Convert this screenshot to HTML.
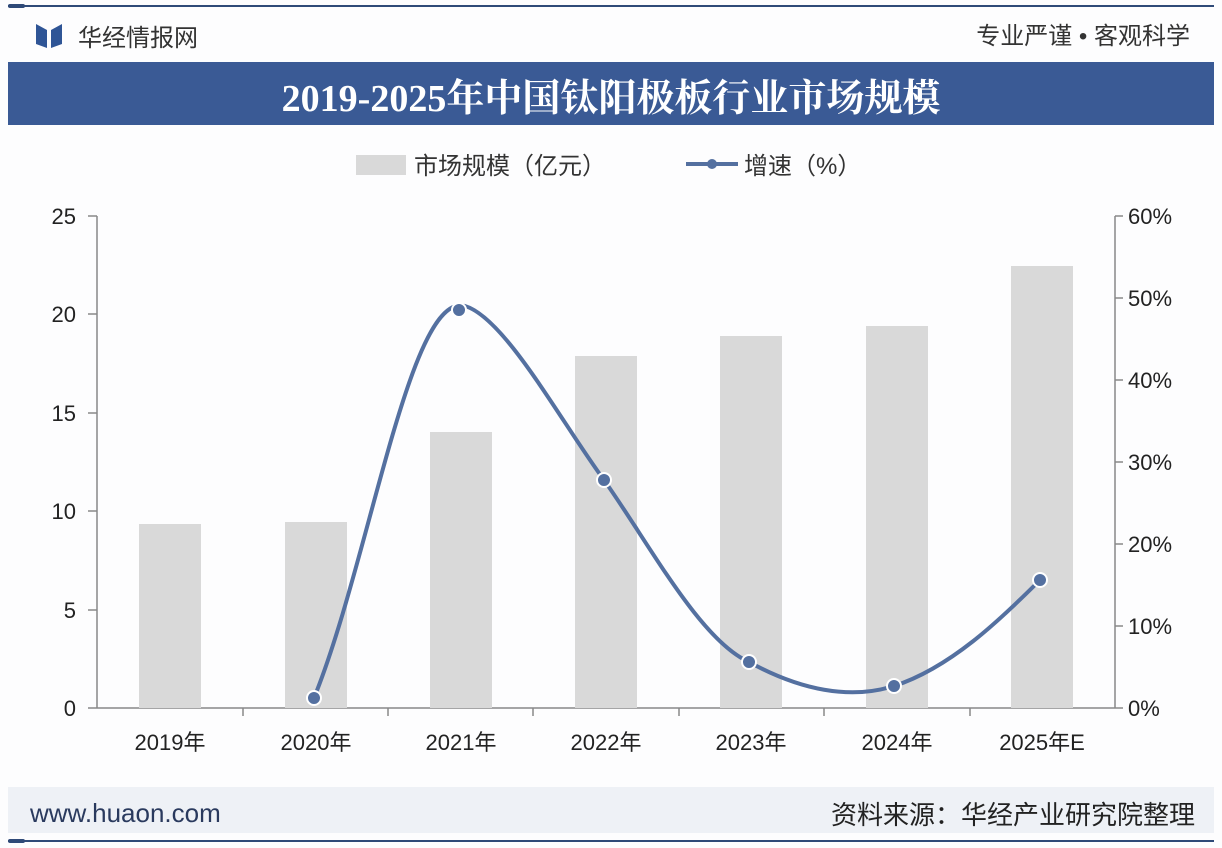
<!DOCTYPE html>
<html><head><meta charset="utf-8"><style>
body{margin:0;background:#fff;}
svg{display:block;font-family:"Liberation Sans","Noto Sans CJK SC",sans-serif;}
</style></head><body>
<svg width="1222" height="848" viewBox="0 0 1222 848" xmlns="http://www.w3.org/2000/svg">
<rect width="1222" height="848" fill="#fdfdfe"/>
<line x1="8" y1="6" x2="1214" y2="6" stroke="#2f4a78" stroke-width="2"/>
<rect x="8" y="4" width="17" height="4" rx="2" fill="#2f4a78"/>
<path d="M36 24 L47 30 L47 48 L36 44 Z M62 24 L51 30 L51 48 L62 44 Z" fill="#2f5596"/>
<text x="78" y="46" font-size="24" fill="#333">华经情报网</text>
<text x="1190" y="44" font-size="24" fill="#333" text-anchor="end">专业严谨 • 客观科学</text>
<rect x="8" y="62" width="1206" height="63" fill="#3a5a95"/>
<text x="611" y="111" font-size="38" font-weight="bold" fill="#fff" text-anchor="middle" font-family="Liberation Serif,'Noto Serif CJK SC',serif">2019-2025年中国钛阳极板行业市场规模</text>
<!-- legend -->
<rect x="356" y="155" width="50" height="20" fill="#d9d9d9"/>
<text x="414" y="174" font-size="24" fill="#333">市场规模（亿元）</text>
<line x1="686" y1="164" x2="738" y2="164" stroke="#5470a0" stroke-width="4"/>
<circle cx="712" cy="164" r="5" fill="#5470a0"/>
<text x="744" y="174" font-size="24" fill="#333">增速（%）</text>
<!-- axes -->
<g stroke="#888" stroke-width="1.5">
<line x1="97" y1="216" x2="97" y2="708"/>
<line x1="1115" y1="216" x2="1115" y2="708"/>
<line x1="88" y1="708" x2="1115" y2="708"/>
<line x1="88" y1="216" x2="97" y2="216"/><line x1="88" y1="314" x2="97" y2="314"/><line x1="88" y1="413" x2="97" y2="413"/><line x1="88" y1="511" x2="97" y2="511"/><line x1="88" y1="610" x2="97" y2="610"/>
<line x1="1115" y1="216" x2="1123" y2="216"/><line x1="1115" y1="298" x2="1123" y2="298"/><line x1="1115" y1="380" x2="1123" y2="380"/><line x1="1115" y1="462" x2="1123" y2="462"/><line x1="1115" y1="544" x2="1123" y2="544"/><line x1="1115" y1="626" x2="1123" y2="626"/><line x1="1115" y1="708" x2="1123" y2="708"/>
<line x1="243" y1="708" x2="243" y2="716"/><line x1="388" y1="708" x2="388" y2="716"/><line x1="533" y1="708" x2="533" y2="716"/><line x1="679" y1="708" x2="679" y2="716"/><line x1="824" y1="708" x2="824" y2="716"/><line x1="970" y1="708" x2="970" y2="716"/>
</g>
<g font-size="22" fill="#222" text-anchor="end">
<text x="76" y="224">25</text><text x="76" y="322">20</text><text x="76" y="421">15</text><text x="76" y="519">10</text><text x="76" y="618">5</text><text x="76" y="716">0</text>
</g>
<g font-size="22" fill="#222">
<text x="1128" y="224">60%</text><text x="1128" y="306">50%</text><text x="1128" y="388">40%</text><text x="1128" y="470">30%</text><text x="1128" y="552">20%</text><text x="1128" y="634">10%</text><text x="1128" y="716">0%</text>
</g>
<g fill="#d9d9d9">
<rect x="139" y="524" width="62" height="184"/>
<rect x="285" y="522" width="62" height="186"/>
<rect x="430" y="432" width="62" height="276"/>
<rect x="575" y="356" width="62" height="352"/>
<rect x="720" y="336" width="62" height="372"/>
<rect x="866" y="326" width="62" height="382"/>
<rect x="1011" y="266" width="62" height="442"/>
</g>
<g font-size="22" fill="#222" text-anchor="middle">
<text x="170" y="750">2019年</text><text x="316" y="750">2020年</text><text x="461" y="750">2021年</text><text x="606" y="750">2022年</text><text x="751" y="750">2023年</text><text x="897" y="750">2024年</text><text x="1042" y="750">2025年E</text>
</g>
<path d="M314 698 C370 560 410 290 465 306 C505 318 560 420 604 480 C650 545 700 640 749 662 C800 690 850 700 894 686 C950 668 1000 620 1040 580" fill="none" stroke="#5470a0" stroke-width="4"/>
<g fill="#5470a0" stroke="#fff" stroke-width="2">
<circle cx="314" cy="698" r="7"/><circle cx="459" cy="310" r="7"/><circle cx="604" cy="480" r="7"/><circle cx="749" cy="662" r="7"/><circle cx="894" cy="686" r="7"/><circle cx="1040" cy="580" r="7"/>
</g>
<rect x="8" y="787" width="1206" height="46" fill="#eef1f6"/>
<text x="30" y="822" font-size="26" fill="#2a3a5e">www.huaon.com</text>
<text x="1195" y="824" font-size="26" fill="#222" text-anchor="end">资料来源：华经产业研究院整理</text>
<line x1="8" y1="841" x2="1214" y2="841" stroke="#2f4a78" stroke-width="2"/>
<rect x="8" y="839" width="17" height="4" rx="2" fill="#2f4a78"/>
</svg>
</body></html>
